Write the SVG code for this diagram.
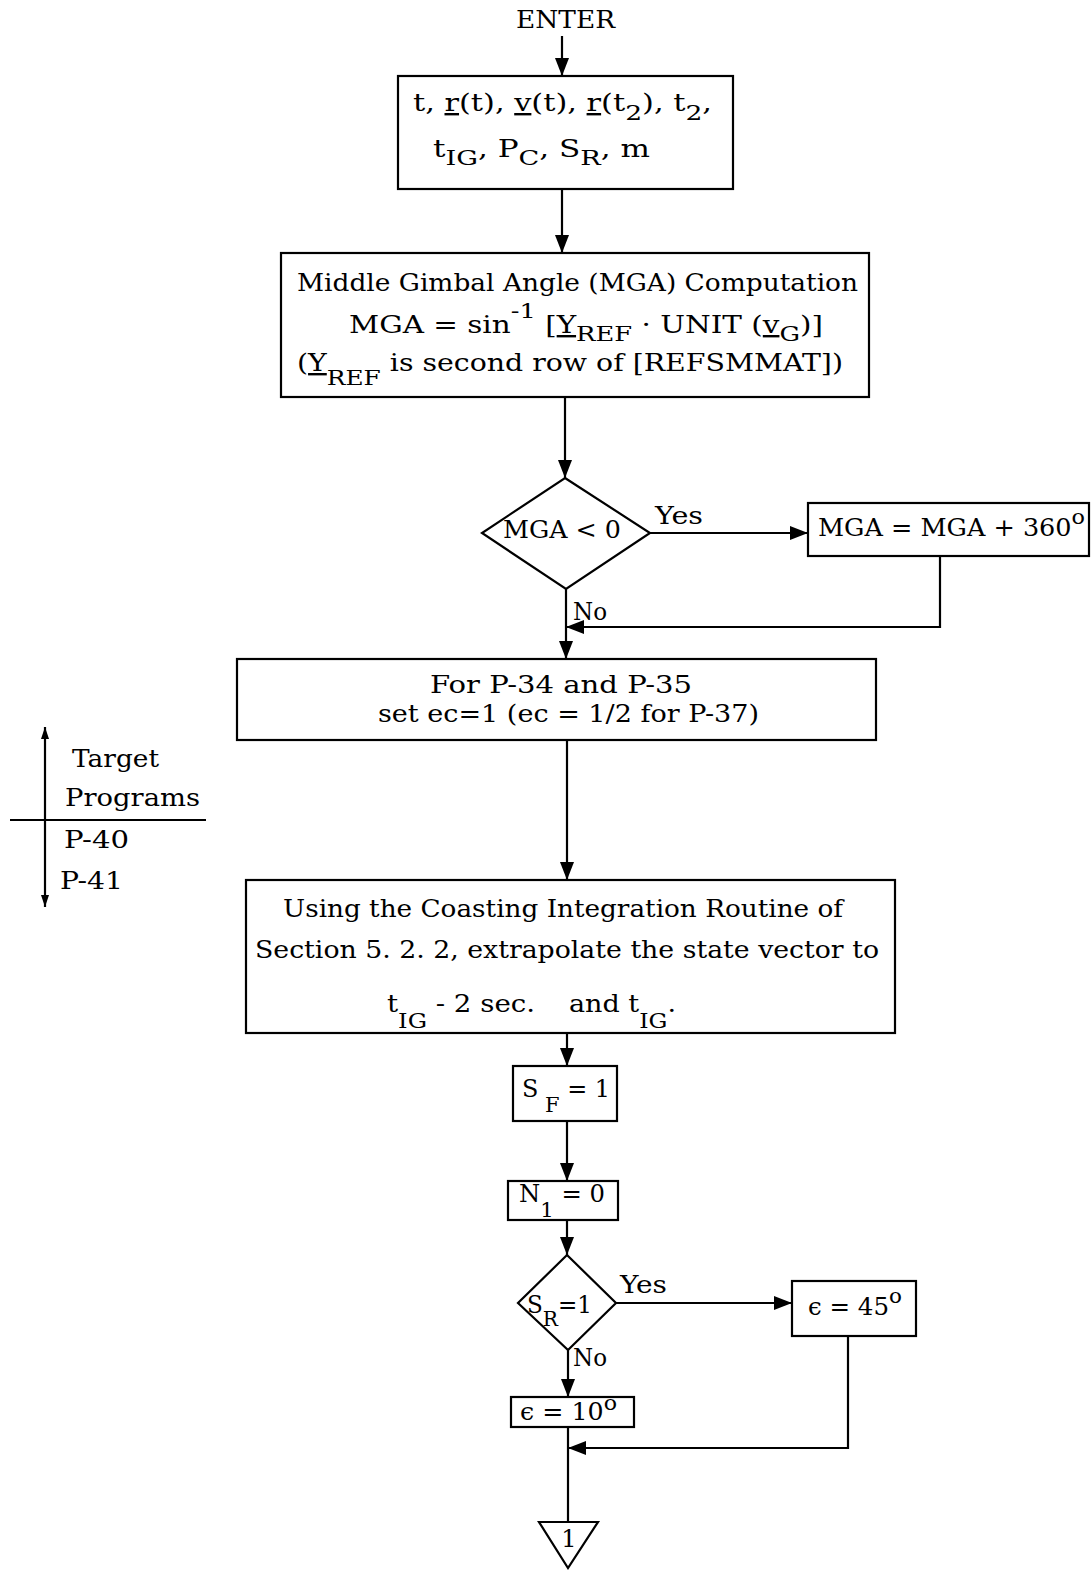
<svg xmlns="http://www.w3.org/2000/svg" width="1091" height="1570" viewBox="0 0 1091 1570" xml:space="preserve">
  <style>
    .box { fill: #fff; stroke: #000; stroke-width: 2.2; }
    .ln { fill: none; stroke: #000; stroke-width: 2.2; }
    .t { font-family: "DejaVu Serif", "Liberation Serif", serif; font-size: 24px; fill: #000; }
    .m { text-anchor: middle; }
    .s { font-size: 21px; }
    .u { text-decoration: underline; }
  </style>
  <defs>
    <marker id="ah" viewBox="0 0 18 14" refX="18" refY="7" markerWidth="18" markerHeight="14" markerUnits="userSpaceOnUse" orient="auto">
      <path d="M0,0 L18,7 L0,14 Z" fill="#000"/>
    </marker>
    <marker id="ahs" viewBox="0 0 12 8" refX="12" refY="4" markerWidth="12" markerHeight="8" markerUnits="userSpaceOnUse" orient="auto">
      <path d="M0,0 L12,4 L0,8 Z" fill="#000"/>
    </marker>
  </defs>
  <rect width="1091" height="1570" fill="#fff"/>

  <!-- flow lines -->
  <g id="connectors" class="ln">
    <path d="M562,36 V76" marker-end="url(#ah)"/>
    <path d="M562,189 V253" marker-end="url(#ah)"/>
    <path d="M565,397 V478" marker-end="url(#ah)"/>
    <path d="M650,533 H808" marker-end="url(#ah)"/>
    <path d="M940,556 V627 H566" marker-end="url(#ah)"/>
    <path d="M566,589 V659" marker-end="url(#ah)"/>
    <path d="M567,740 V880" marker-end="url(#ah)"/>
    <path d="M567,1033 V1066" marker-end="url(#ah)"/>
    <path d="M567,1121 V1181" marker-end="url(#ah)"/>
    <path d="M567,1220 V1255" marker-end="url(#ah)"/>
    <path d="M616,1303 H792" marker-end="url(#ah)"/>
    <path d="M568,1350 V1397" marker-end="url(#ah)"/>
    <path d="M848,1336 V1448 H568" marker-end="url(#ah)"/>
    <path d="M568,1427 V1522"/>
  </g>

  <!-- entry label -->
  <g id="enter">
    <text class="t" x="516" y="28" textLength="99" lengthAdjust="spacingAndGlyphs">ENTER</text>
  </g>

  <!-- inputs -->
  <g id="inputs">
    <rect class="box" x="398" y="76" width="335" height="113"/>
    <text class="t" x="413" y="111" textLength="299" lengthAdjust="spacingAndGlyphs">t,  <tspan class="u">r</tspan>(t),  <tspan class="u">v</tspan>(t),  <tspan class="u">r</tspan>(t<tspan class="s" dy="9">2</tspan><tspan dy="-9">),  t</tspan><tspan class="s" dy="9">2</tspan><tspan dy="-9">,</tspan></text>
    <text class="t" x="433" y="157" textLength="217" lengthAdjust="spacingAndGlyphs">t<tspan class="s" dy="8">IG</tspan><tspan dy="-8">,  P</tspan><tspan class="s" dy="8">C</tspan><tspan dy="-8">,  S</tspan><tspan class="s" dy="8">R</tspan><tspan dy="-8">,  m</tspan></text>
  </g>

  <!-- middle gimbal angle computation -->
  <g id="mga-computation">
    <rect class="box" x="281" y="253" width="588" height="144"/>
    <text class="t" x="297" y="291" textLength="561" lengthAdjust="spacingAndGlyphs">Middle Gimbal Angle (MGA) Computation</text>
    <text class="t" x="349" y="333" textLength="474" lengthAdjust="spacingAndGlyphs">MGA = sin<tspan class="s" dy="-15">-1</tspan><tspan dy="15">  [</tspan><tspan class="u">Y</tspan><tspan class="s" dy="8">REF</tspan><tspan dy="-8"> ·  UNIT (</tspan><tspan class="u">v</tspan><tspan class="s" dy="8">G</tspan><tspan dy="-8">)]</tspan></text>
    <text class="t" x="297" y="371" textLength="546" lengthAdjust="spacingAndGlyphs">(<tspan class="u">Y</tspan><tspan class="s" dy="14">REF</tspan><tspan dy="-14"> is second row of [REFSMMAT])</tspan></text>
  </g>

  <!-- sign test -->
  <g id="mga-negative">
    <path class="box" d="M565,478 L650,533 L566,589 L482,533 Z"/>
    <text class="t" x="503" y="538" textLength="118" lengthAdjust="spacingAndGlyphs">MGA &lt;  0</text>
  </g>
  <g id="mga-wrap">
    <rect class="box" x="808" y="503" width="281" height="53"/>
    <text class="t" x="818" y="536" textLength="267" lengthAdjust="spacingAndGlyphs">MGA  =  MGA + 360<tspan class="s" dy="-12">o</tspan></text>
  </g>
  <text class="t" x="655" y="524" textLength="48" lengthAdjust="spacingAndGlyphs">Yes</text>
  <text class="t" x="573" y="620" textLength="34" lengthAdjust="spacingAndGlyphs">No</text>

  <!-- ec setup -->
  <g id="ec-setup">
    <rect class="box" x="237" y="659" width="639" height="81"/>
    <text class="t" x="430" y="693" textLength="262" lengthAdjust="spacingAndGlyphs">For  P-34 and P-35</text>
    <text class="t" x="378" y="722" textLength="381" lengthAdjust="spacingAndGlyphs">set ec=1 (ec = 1/2 for P-37)</text>
  </g>

  <!-- target programs legend -->
  <g id="target-programs">
    <path class="ln" d="M45,814 V727" marker-end="url(#ahs)"/>
    <path class="ln" d="M45,814 V907" marker-end="url(#ahs)"/>
    <path class="ln" d="M10,820 H206"/>
    <text class="t" x="72" y="767" textLength="87" lengthAdjust="spacingAndGlyphs">Target</text>
    <text class="t" x="65" y="806" textLength="135" lengthAdjust="spacingAndGlyphs">Programs</text>
    <text class="t" x="64" y="848" textLength="65" lengthAdjust="spacingAndGlyphs">P-40</text>
    <text class="t" x="60" y="889" textLength="63" lengthAdjust="spacingAndGlyphs">P-41</text>
  </g>

  <!-- coasting integration -->
  <g id="coasting-integration">
    <rect class="box" x="246" y="880" width="649" height="153"/>
    <text class="t" x="283" y="917" textLength="560" lengthAdjust="spacingAndGlyphs">Using the Coasting Integration Routine of</text>
    <text class="t" x="255" y="958" textLength="624" lengthAdjust="spacingAndGlyphs">Section 5. 2. 2,  extrapolate the state vector to</text>
    <text class="t" x="387" y="1012" textLength="148" lengthAdjust="spacingAndGlyphs">t<tspan class="s" dy="16">IG</tspan><tspan dy="-16"> - 2 sec.</tspan></text>
    <text class="t" x="569" y="1012" textLength="107" lengthAdjust="spacingAndGlyphs">and t<tspan class="s" dy="16">IG</tspan><tspan dy="-16">.</tspan></text>
  </g>

  <g id="sf-init">
    <rect class="box" x="513" y="1066" width="104" height="55"/>
    <text class="t" x="522" y="1097" textLength="88" lengthAdjust="spacingAndGlyphs">S<tspan class="s" dy="15"> F</tspan><tspan dy="-15"> = 1</tspan></text>
  </g>

  <g id="n1-init">
    <rect class="box" x="508" y="1181" width="110" height="39"/>
    <text class="t" x="519" y="1202" textLength="86" lengthAdjust="spacingAndGlyphs">N<tspan class="s" dy="15">1</tspan><tspan dy="-15">  = 0</tspan></text>
  </g>

  <g id="sr-test">
    <path class="box" d="M567,1255 L616,1303 L568,1350 L518,1303 Z"/>
    <text class="t" x="527" y="1313" textLength="65" lengthAdjust="spacingAndGlyphs">S<tspan class="s" dy="13">R</tspan><tspan dy="-13">=1</tspan></text>
  </g>
  <text class="t" x="620" y="1293" textLength="47" lengthAdjust="spacingAndGlyphs">Yes</text>
  <text class="t" x="573" y="1366" textLength="34" lengthAdjust="spacingAndGlyphs">No</text>

  <g id="eps-45">
    <rect class="box" x="792" y="1281" width="124" height="55"/>
    <text class="t" x="808" y="1315" textLength="94" lengthAdjust="spacingAndGlyphs">ϵ  =  45<tspan class="s" dy="-12">o</tspan></text>
  </g>

  <g id="eps-10">
    <rect class="box" x="511" y="1397" width="123" height="30"/>
    <text class="t" x="520" y="1420" textLength="97" lengthAdjust="spacingAndGlyphs">ϵ  =  10<tspan class="s" dy="-10">o</tspan></text>
  </g>

  <g id="connector-1">
    <path class="box" d="M539,1522 H598 L568,1568 Z"/>
    <text class="t m" x="569" y="1547">1</text>
  </g>
</svg>
